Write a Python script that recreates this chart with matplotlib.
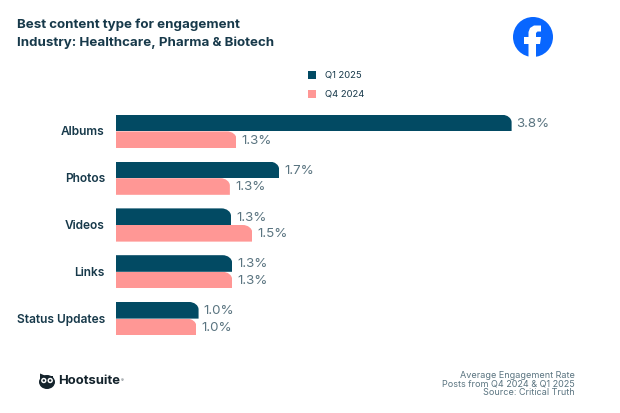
import matplotlib
matplotlib.use("Agg")
import matplotlib.pyplot as plt
from matplotlib.patches import Circle, Ellipse, Polygon, Rectangle
from matplotlib.path import Path

plt.rcParams['font.family'] = ['Inter', 'DejaVu Sans']

categories = ["Albums", "Photos", "Videos", "Links", "Status Updates"]
q1_2025 = [3.81, 1.73, 1.30, 1.31, 1.01]
q4_2024 = [1.349, 1.29, 1.49, 1.31, 0.99]
series_names = ["Q1 2025", "Q4 2024"]
title_lines = ["Best content type for engagement", "Industry: Healthcare, Pharma & Biotech"]
source_lines = ["Average Engagement Rate", "Posts from Q4 2024 & Q1 2025", "Source: Critical Truth"]

DARK = "#024A63"
PINK = "#FF9795"
TEXT = "#17394A"
GREY = "#5A7480"
BLUE = "#0866FF"
OWL = "#14232C"
W, H = 620, 413

fig = plt.figure(figsize=(W / 100, H / 100), dpi=100, facecolor="white")

# overlay in pixel coordinates for titles, legend and logos
page = fig.add_axes([0, 0, 1, 1])
page.set_xlim(0, W)
page.set_ylim(H, 0)
page.axis("off")

# chart area, the value axis does not start at zero in the original
start = 0.267
ax = fig.add_axes([115.5 / W, 1 - 342 / H, 480 / W, 234 / H])
ax.patch.set_alpha(0)
ax.set_xlim(start, start + 480 / 111.8)
ax.set_ylim(4.5, -0.5)
ax.axis("off")

bar_h = 0.355


def round_bar(bar, rx=0.085, ry=0.16):
    # clip the top right corner of a bar, like the original
    x0, y0 = bar.get_x(), bar.get_y()
    x1, y1 = x0 + bar.get_width(), y0 + bar.get_height()
    k = 0.45
    verts = [(x0, y0), (x1 - rx, y0),
             (x1 - rx * k, y0), (x1, y0 + ry * k), (x1, y0 + ry),
             (x1, y1), (x0, y1), (x0, y0)]
    codes = [Path.MOVETO, Path.LINETO, Path.CURVE4, Path.CURVE4, Path.CURVE4,
             Path.LINETO, Path.LINETO, Path.CLOSEPOLY]
    bar.set_clip_path(Path(verts, codes), ax.transData)


for i, name in enumerate(categories):
    top = ax.barh(i - bar_h / 2, q1_2025[i] - start, height=bar_h, left=start, color=DARK, linewidth=0)[0]
    low = ax.barh(i + bar_h / 2, q4_2024[i] - start, height=bar_h, left=start, color=PINK, linewidth=0)[0]
    round_bar(top)
    round_bar(low)
    ax.text(q1_2025[i] + 0.045, i - bar_h / 2 + 0.02, f"{q1_2025[i]:.1f}%", va="center", ha="left",
            fontsize=9.6, color=GREY)
    ax.text(q4_2024[i] + 0.045, i + bar_h / 2 + 0.02, f"{q4_2024[i]:.1f}%", va="center", ha="left",
            fontsize=9.6, color=GREY)
    ax.text(start - 0.095, i + 0.02, name, va="center", ha="right", fontsize=8.6,
            fontweight="semibold", color=TEXT)

# titles
page.text(17, 25, title_lines[0], fontsize=9.6, fontweight="bold", color=TEXT, va="center")
page.text(17, 43, title_lines[1], fontsize=9.6, fontweight="bold", color=TEXT, va="center")

# legend
for y, col, lab in zip([75, 94], [DARK, PINK], series_names):
    page.add_patch(Rectangle((308, y - 4), 8, 8, color=col, linewidth=0))
    page.text(325, y, lab, fontsize=6.8, color=TEXT, va="center")

# facebook logo
page.add_patch(Circle((533, 37), 20, color=BLUE, linewidth=0))
page.add_patch(Polygon([(528.5, 57), (528.5, 44), (524, 44), (524, 37), (528.5, 37), (528.5, 32),
                        (530, 28), (534, 25.5), (541, 25.5), (541, 31.5), (537.5, 31.5), (536, 33),
                        (536, 37), (541, 37), (540, 44), (536, 44), (536, 57)],
                       color="white", linewidth=0))

# hootsuite owl
page.add_patch(Ellipse((47, 382), 16, 14, color=OWL, linewidth=0))
page.add_patch(Polygon([(40, 373.5), (46, 376), (53, 376), (53, 380), (40, 380)], color=OWL, linewidth=0))
page.add_patch(Ellipse((43.8, 380.5), 5.4, 5.4, color="white", linewidth=0))
page.add_patch(Ellipse((50.2, 380.5), 5.4, 5.4, color="white", linewidth=0))
page.add_patch(Ellipse((43.8, 380.5), 2.4, 2.4, color=OWL, linewidth=0))
page.add_patch(Ellipse((50.2, 380.5), 2.4, 2.4, color=OWL, linewidth=0))
page.text(58, 381.5, "Hootsuite", fontsize=9.4, fontweight="bold", color=OWL, va="center")
page.text(120.5, 380, "®", fontsize=3, color=OWL, va="center")

# source note
for y, line in zip([375.5, 384, 392.5], source_lines):
    page.text(575, y, line, fontsize=6.5, color=GREY, va="center", ha="right")

fig.savefig("out.png", dpi=100, facecolor="white")
